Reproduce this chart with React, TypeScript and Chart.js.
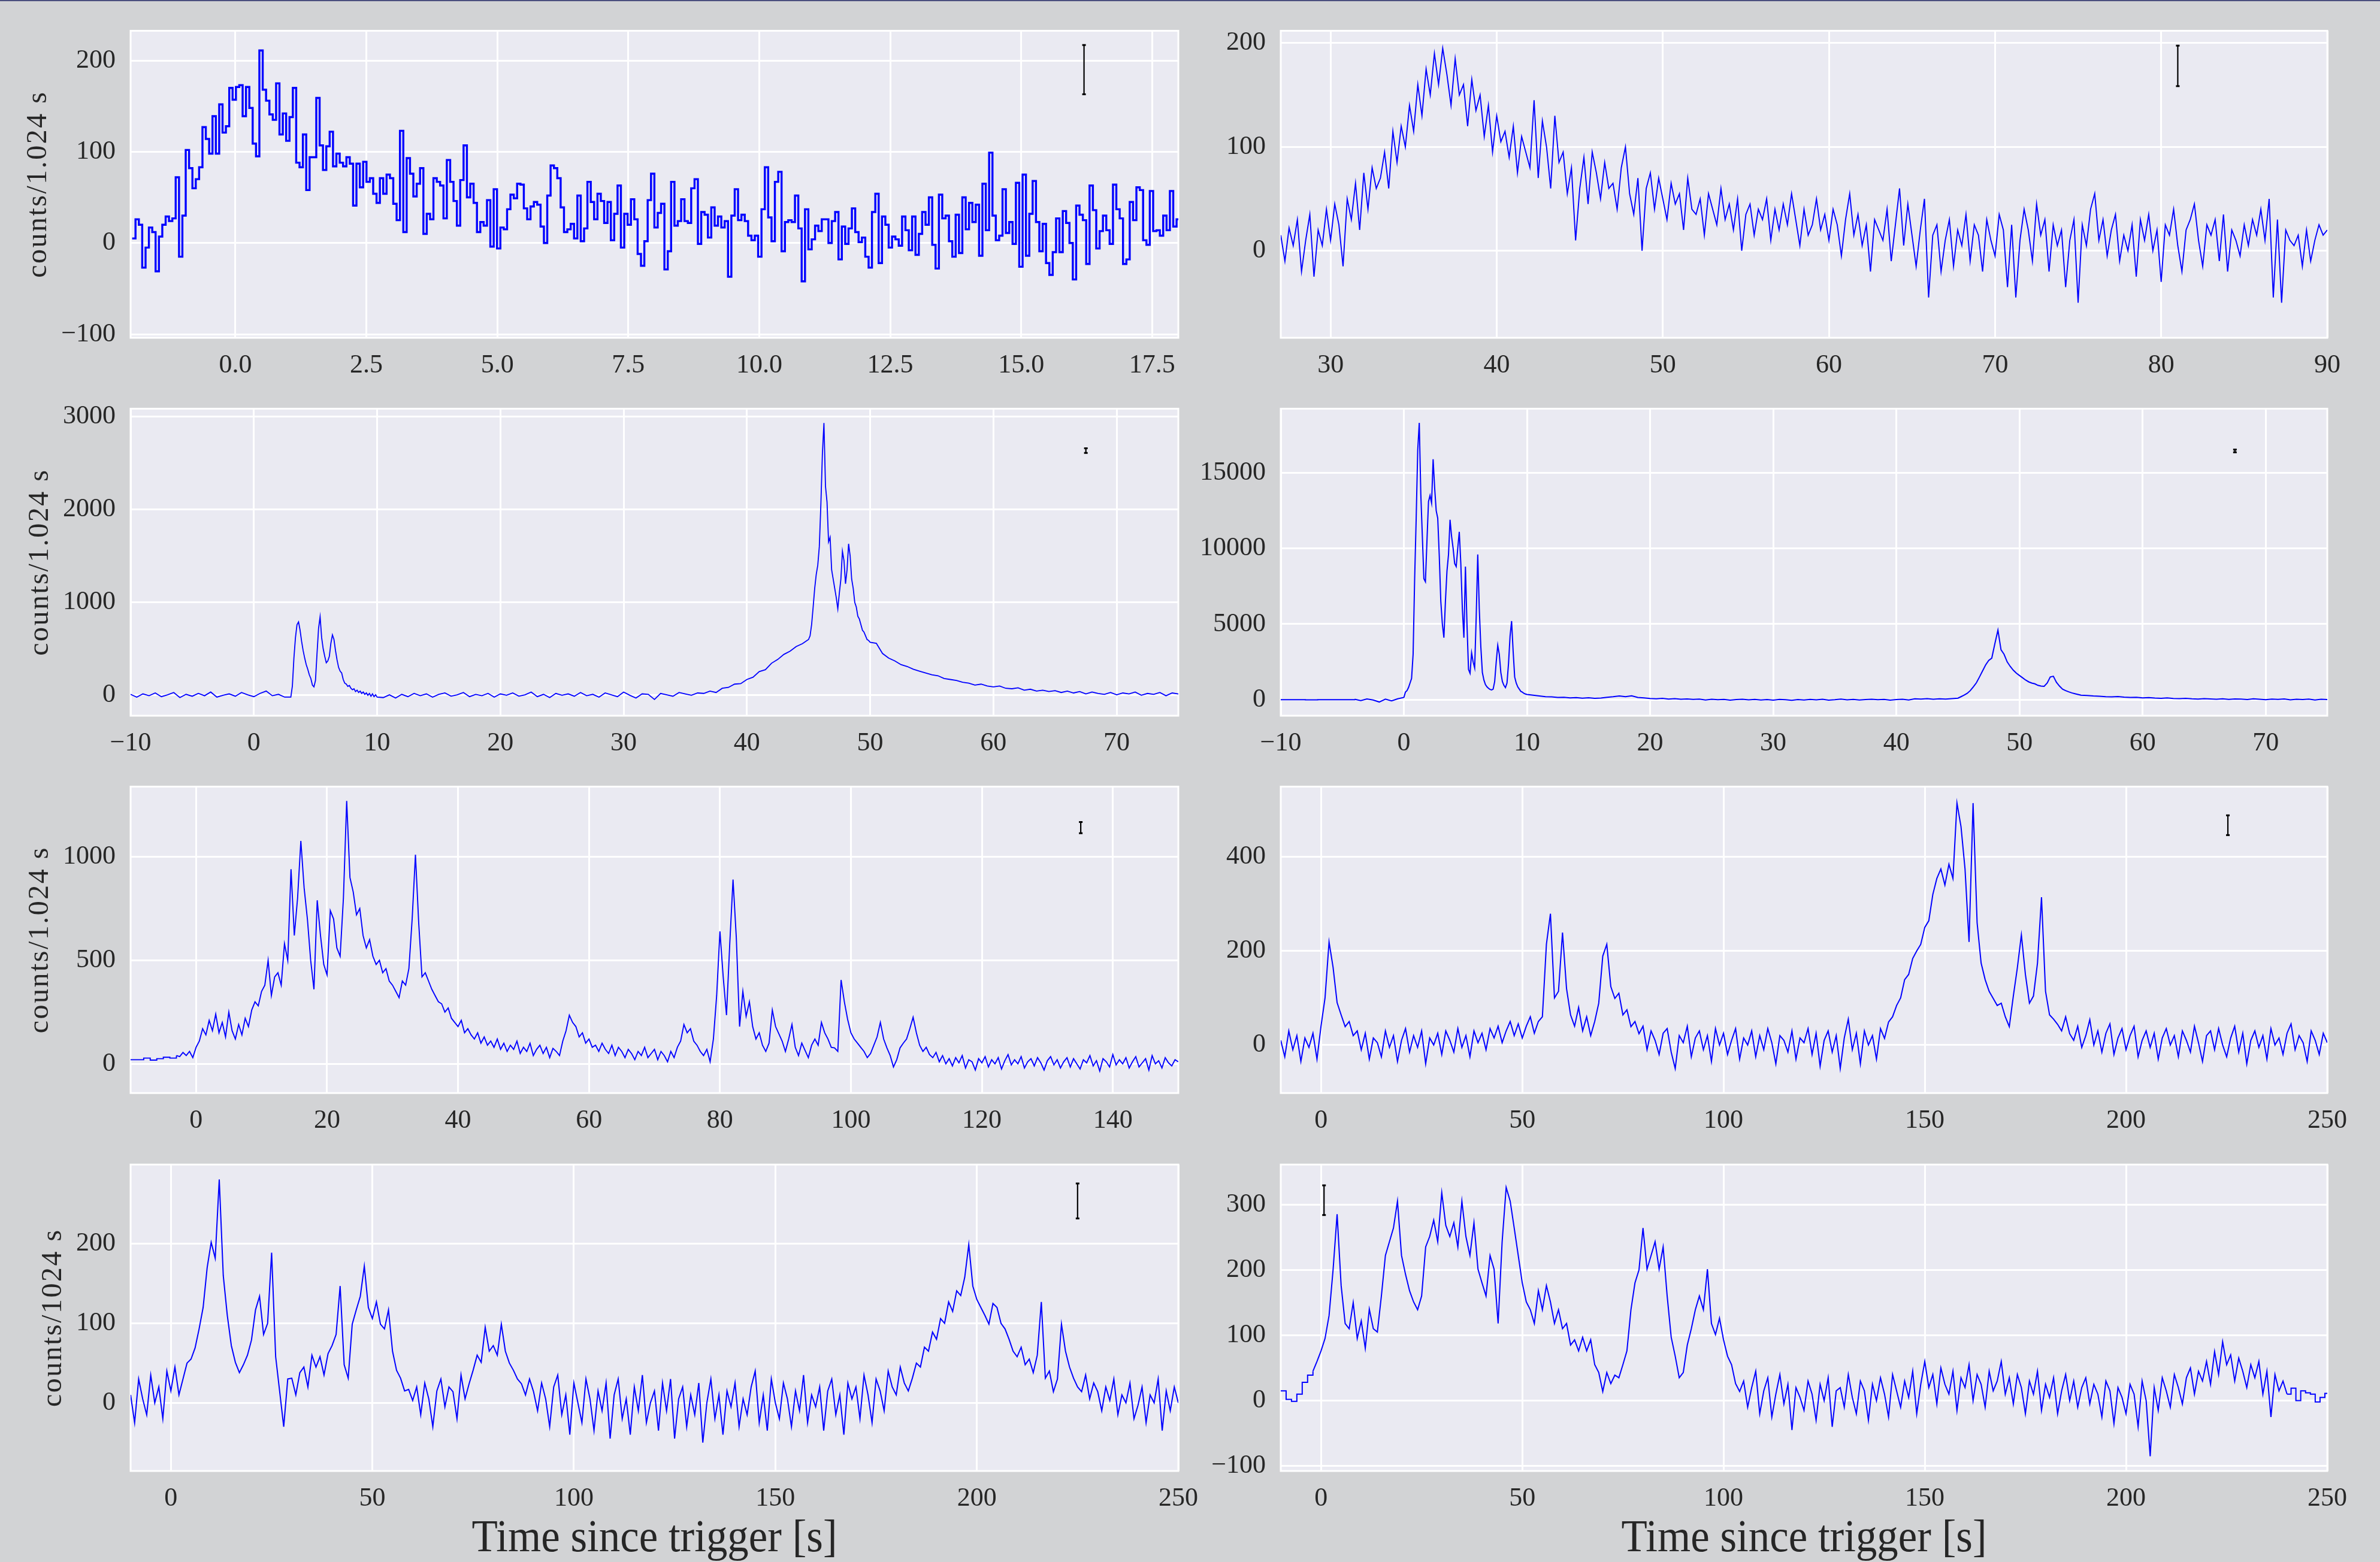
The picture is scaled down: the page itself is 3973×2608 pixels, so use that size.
import React, { useEffect, useRef } from "react";
import { Chart, registerables } from "chart.js";
Chart.register(...registerables);

// ---------------- DATA ----------------
// Panel 1 (step plot, 0.064 s bins)
const P1_T0 = -1.97;
const P1_DT = 0.0639;
const p1Counts = [
  5, 26, 20, -27, -5, 17, 12, -31, 7, 20,
  29, 24, 27, 72, -15, 30, 102, 82, 60, 70,
  83, 127, 114, 98, 139, 98, 152, 121, 128, 170,
  157, 171, 173, 139, 171, 148, 109, 95, 211, 168,
  156, 141, 135, 175, 119, 142, 112, 138, 170, 88,
  83, 119, 58, 94, 94, 159, 107, 80, 106, 122,
  84, 98, 88, 84, 94, 87, 41, 87, 61, 89,
  67, 71, 54, 44, 71, 54, 75, 71, 43, 25,
  123, 12, 93, 76, 51, 65, 82, 10, 32, 26,
  71, 67, 63, 27, 91, 67, 46, 19, 69, 107,
  50, 65, 44, 12, 23, 19, 47, -4, 59, -6,
  17, 15, 37, 53, 49, 65, 64, 38, 26, 40,
  45, 42, 18, 0, 52, 85, 82, 71, 39, 12,
  15, 21, 5, 52, 2, 16, 67, 45, 26, 54,
  46, 22, 45, 3, 32, 63, -5, 32, 20, 48,
  26, -12, -25, 2, 47, 76,
  17, 33, 43, -29, -9, 67, 19, 24, 48, 24,
  22, 60, 70, -1, 34, 31, 6, 39, 19, 29,
  17, 24, -37, 30, 59, 25, 31, 24, 8, 3,
  8, -15, 37, 83, 28, 2, 67, 78, -9, 23,
  25, 23, 52, 16, -42, 37, -7, 4, 19, 13,
  26, 26, 0, 24, 34, -18, 18, -1, 16, 38,
  12, 1, 6, -15, -27, 34, 54, -22, 29, 20,
  -5, 7, 4, -3, 29, 14, -8, 29, -13, 10,
  34, 20, 50, -2, -28, 53, 27, 30, 2, -15,
  31, -11, 50, 15, 44, 23, 42, -14, 65, 14,
  99, 30, 3, 8, 59, 11, 23, -1, 66, -26,
  75, -14, 32, 68, 23, -9, 21, -22, -35, -10,
  27, -10, 35, 22, 0, -40, 41, 31, 25, -23,
  63, 36, -6, 13, 30, 14, -1, 64, 37, 27,
  -23, -18, 45, 25, 61, 58, 3, -2, 57, 13,
  14, 8, 30, 14, 57, 18, 26,
];
const p1XTicks = [0, 2.5, 5, 7.5, 10, 12.5, 15, 17.5];
const p1YTicks = [-100, 0, 100, 200];

// Panel 2 (t0 27 s, 0.25 s)
const P2_T0 = 27;
const P2_DT = 0.25;
const p2Counts = [
  15, -10, 22, 5, 30, -20, 10, 35, -25, 20, 5, 40,
  10, 45, 25, -15, 50, 30, 65, 20, 75, 40, 80, 60,
  70, 95, 60, 115, 85, 120, 100, 140, 115, 160, 130, 175,
  150, 190, 160, 195, 170, 140, 185, 150, 160, 120, 165, 135,
  150, 110, 140, 95, 130, 105, 115, 90, 120, 75, 110, 95,
  80, 145, 70, 125, 100, 60, 130, 85, 95, 55, 80, 10,
  60, 90, 45, 95, 75, 50, 85, 60, 65, 40, 80, 100,
  55, 35, 70, 0, 60, 75, 40, 70, 50, 30, 65, 45,
  55, 20, 70, 40, 35, 50, 15, 55, 40, 25, 60, 30,
  45, 20, 50, 0, 35, 45, 15, 40, 30, 50, 10, 40,
  20, 45, 25, 55, 30, 5, 40, 15, 25, 50, 20, 35,
  10, 40, 25, -5, 30, 55, 15, 35, 5, 25, -20, 30,
  20, 10, 40, -10, 25, 60, 5, 45, 15, -15, 20, 50,
  -45, 15, 25, -20, 10, 30, -15, 20, 5, 35, -10, 25,
  15, -20, 30, 10, -5, 35, 20, -35, 25, -45, 10, 40,
  20, -10, 45, 15, 30, -20, 25, 5, 20, -35, 10, 30,
  -50, 25, 5, 40, 55, 10, 30, -5, 20, 35, -10, 15,
  0, 25, -25, 30, 10, 35, 0, 20, -30, 25, 15, 40,
  5, -20, 20, 30, 45, 10, -15, 25, 15, 30, -10, 35,
  -20, 20, 10, -5, 25, 5, 30, 15, 40, 10, 50, -45,
  30, -50, 20, 10, 5, 15, -15, 20, -10, 10, 25, 15,
  20,
];
const p2XTicks = [30, 40, 50, 60, 70, 80, 90];
const p2YTicks = [0, 100, 200];

// Panel 3
const p3CountsA = [10, -20, 15, -5, 25, -15, 5, 30, -25, 10, -10, 20, -5, 35, -20, 0, 15, -10, 30, 5, -15, 20, 45, -5, 10, -20];
const p3CountsB = [
  -20, 100, 400, 620, 760, 790, 700, 580, 480, 400,
  330, 280, 220, 180, 110, 90, 160, 450, 720, 845,
  620, 500, 420, 350, 370, 420, 560, 650, 600, 480,
  380, 300, 260, 240, 170, 130, 120, 95, 105, 75,
  60, 70, 40, 55, 30, 45, 20, 35, 10, 25,
  0, 20, -10, 15, -15, 5, -20,
];
const p3CountsC = [
  -25, 5, -30, 10, -15, 20, -5, 15, -20, 10,
  25, -10, 5, 30, -15, 10, -5, 20, -20, 15,
  0, 25, -10, 5, 35, -15, 10, -25, 20, 0,
  15, -10, 30, -5, 10, -20, 25, 5, -15, 35,
  0, -30, 15, 10, -45, 20, 5, -10, 30, 15,
  0, 25,
];
const p3CountsD = [20, 45, 30, 75, 85, 120, 125, 170, 195, 255, 275, 345, 385, 440, 475, 525, 555, 600];
const p3CountsE = [
  640, 760, 950, 1150, 1300, 1400, 1600, 2050, 2600, 2930,
  2250, 2080, 1650, 1700, 1350, 1250, 1150, 1050, 930, 1100,
  1250, 1550, 1450, 1200, 1350, 1630, 1500, 1250, 1150, 1000,
  950, 850, 820, 760, 700, 680, 640, 600, 590, 570,
];
const p3CountsF = [
  560, 450, 400, 370, 330, 310, 280, 260, 240, 220,
  210, 180, 170, 160, 140, 130, 110, 120, 100, 90,
  100, 75, 70, 80, 55, 65, 45, 55, 40, 50,
  30, 45, 25, 40, 15, 35, 20, 10, 30, 5,
  25, 15, 35, 0, 20, 10, 30, -5, 25, 15,
];
const p34XTicks = [-10, 0, 10, 20, 30, 40, 50, 60, 70];
const p3YTicks = [0, 1000, 2000, 3000];

// Panel 4
const p4CountsA = [0, 0, -10, 0, 5, 0];
const p4CountsB = [30, -60, 50, -20, -150, 40, -80, 60, 150];
const p4CountsC = [
  500, 600, 800, 1100, 1400, 3000, 8000, 12000, 16500, 18300,
  13600, 10800, 8000, 7800, 10500, 13100, 13500, 13000, 15900, 14000,
  12500, 12000, 9500, 6500, 5000, 4100, 6500, 8500, 9600, 11900,
  10800, 10000, 9000, 8800, 10000, 11100, 9000, 6000, 4100, 8800,
  5000, 2000, 1750, 3100, 2500, 2100, 5500, 9600, 6000, 3500,
  1800, 1300, 1000, 850, 750, 680, 650, 700, 1200, 2500,
  3600, 3000, 1800, 1200, 950, 800, 1100, 2400, 4200, 5200,
  3200, 1500, 1100, 850, 700, 550, 500, 420, 380, 350,
];
const p4CountsD = [
  300, 250, 200, 190, 150, 160, 120, 140, 100, 130,
  90, 110, 160, 200, 250, 200, 260, 150, 120, 80,
  60, 90, 40, 70, 30, 50, 20, 40, -20, 30,
  0, 20, -30, 10, 30, -10, 20, -20, 10, -30,
  20, 0, -40, 10, -20, 20, -10, 30, -30, 0,
  40, -10, 20, -20, 10, 30, 0, 20, -30, 10,
  30, -20, 60, 40, 70, 30, 60, 40, 70, 100,
];
const p4CountsE = [
  200, 300, 420, 600, 850, 1120, 1500, 1900, 2300, 2600,
  2750, 3700, 4600, 3300, 3000, 2500, 2200, 1950, 1750, 1600,
  1450, 1300, 1180, 1100, 1050, 950, 900, 880, 1100, 1500,
  1550, 1150, 900, 700, 600, 520, 450, 400, 350, 300,
];
const p4CountsF = [
  280, 250, 230, 200, 190, 210, 170, 150, 160, 120,
  140, 110, 90, 120, 80, 70, 90, 60, 40, 70,
  50, 30, 60, 20, 50, 40, 10, 60, 30, 0,
  40, 20, 50, -10, 30, 10, 40, -20, 30, 10,
];
const p4YTicks = [0, 5000, 10000, 15000];

// Panel 5
const p5CountsA = [20, 20, 28, 18, 25, 32, 28];
const p5CountsB = [
  40, 35, 55, 40, 60, 30,
  80, 110, 170, 140, 210, 160, 240, 150, 200, 130,
  250, 160, 120, 190, 140, 220, 180, 260, 300, 280,
  350, 380, 500, 330, 420, 440, 380, 580, 500, 940,
  620, 800, 1077, 850, 700, 500, 360, 790, 620, 480,
  430, 740, 700, 560, 520, 800, 1270, 900, 830, 720,
  750, 620, 560, 600, 520, 480, 500, 440, 460, 400,
  380, 350, 320, 400, 380, 460, 700, 1010, 680, 420,
  440, 400, 360, 330, 300, 290, 250, 270, 220, 200,
  180, 210, 150, 170, 140, 120, 150, 100, 130, 90,
  110, 80, 120, 70, 100, 60, 90, 70, 110, 50,
  80, 60, 100, 40, 70, 90, 50, 80, 30, 75,
  60, 40, 110, 160, 235, 200, 180, 130, 150, 100,
  120, 80, 90, 60, 100, 70, 50, 90, 40, 80,
  60, 30, 70, 50, 20, 60, 40, 80, 30, 50,
  70, 20, 60, 40, 10, 60, 30, 80, 110, 190,
  150, 170, 110, 90, 60, 40, 70, 10, 120, 330,
  640, 420, 235, 580, 890, 610, 180, 350, 230, 300,
  180, 120, 150, 90, 60, 100, 260, 180, 145, 110,
  60, 120, 190, 80, 40, 100, 65, 30, 90, 120,
  90, 200, 150, 120, 80, 77, 60, 405, 300, 215,
  150, 120, 100, 80, 60, 30, 50, 90, 130, 200,
  120, 77, 40, -15, 20, 77, 100, 120, 170, 225,
  150, 90, 60, 80, 45, 30, 55, 10, 40, 0,
  25, -10, 30, 5, 40, -20, 20, 10, -30, 25,
  5, 35, -15, 20, 0, 30, -25, 15, 45, -5,
  20, 0, 35, -20, 10, 25, -10, 30, 5, -30,
  15, 35, -5, 20, -20, 10, 30, -15, 25, 0,
  -25, 20, 5, 40, -10, 15, -35, 25, 10, -15,
  45, -5, 20, 0, 30, -20, 10, 35, -15, 5,
  25, -30, 40, 0, 15, -20, 30, 5, -10, 20,
  10,
];
const p5XTicks = [0, 20, 40, 60, 80, 100, 120, 140];
const p5YTicks = [0, 500, 1000];

// Panel 6 (t0 -10, 1 s)
const p6Counts = [
  10, -25, 30, -10, 20, -35, 15, -5, 25, -30,
  40, 100, 219, 165, 90, 64, 39, 50, 20, 30,
  -10, 25, -30, 15, 5, -25, 30, -5, 20, -35,
  10, 35, -15, 20, -5, 30, -40, 15, 0, 25,
  -20, 30, 10, -15, 35, -5, 20, -25, 30, 5,
  25, -10, 35, 15, 40, 5, 30, 50, 20, 45,
  15, 40, 60, 25, 50, 60, 214, 279, 100, 114,
  239, 120, 64, 40, 80, 30, 60, 20, 50, 89,
  189, 214, 124, 99, 110, 64, 75, 39, 50, 24,
  40, -10, 30, 10, -20, 25, 35, -15, -50, 20,
  5, 40, -25, 15, 30, -10, 20, -35, 35, 0,
  25, -20, 10, 35, -30, 15, 0, 30, -25, 20,
  -10, 35, 5, -40, 20, 10, -15, 30, -30, 15,
  5, 35, -20, 25, -45, 10, 30, -15, 20, -50,
  15, 55, -10, 25, -40, 30, 0, 20, -30, 35,
  14, 49, 60, 84, 100, 139, 150, 184, 200, 214,
  250, 264, 320, 354, 374, 340, 384, 354, 514, 464,
  374, 219, 514, 260, 174, 139, 114, 99, 84, 89,
  60, 39, 104, 164, 234, 150, 89, 104, 174, 314,
  114, 64, 55, 44, 30, 60, 24, 10, 40, -5,
  20, 54, 0, 30, -15, 25, 45, -20, 15, 35,
  -10, 20, 40, -25, 10, 30, -5, 25, -30, 15,
  35, 0, 20, -25, 30, 10, -15, 40, 5, -35,
  20, 30, -10, 35, 0, -25, 15, 40, -15, 25,
  -40, 10, 30, -5, 20, -30, 35, 0, 15, -20,
  25, 45, -10, 20, 5, -35, 30, 10, -20, 25,
  5,
];
const p678XTicks = [0, 50, 100, 150, 200, 250];
const p6YTicks = [0, 200, 400];

// Panel 7 (t0 -10, 1 s)
const p7Counts = [
  10, -25, 30, 5, -15, 35, 0, 20, -20, 40,
  15, 45, 10, 30, 50, 55, 69, 93, 120, 170,
  202, 182, 281, 160, 110, 72, 51, 38, 48, 60,
  79, 117, 134, 86, 100, 189, 58, 14, -30, 30,
  31, 10, 38, 45, 20, 60, 45, 58, 35, 62,
  72, 86, 147, 48, 31, 99, 117, 134, 172, 120,
  106, 127, 99, 93, 117, 65, 41, 31, 15, 17,
  3, 20, -15, 25, 5, -30, 15, 30, -5, 20,
  14, -20, 35, 5, 24, 41, 60, 51, 95, 65,
  72, 60, 99, 65, 50, 41, 30, 24, 10, 30,
  14, -10, 25, 5, -30, 20, 35, -15, 10, -40,
  25, 0, -25, 30, 5, -35, 15, -10, 25, -45,
  10, 30, -20, 5, -40, 20, -10, 35, -25, 0,
  15, -35, 25, -10, 30, -45, 5, 20, -30, 10,
  -15, 25, -50, 0, 30, -20, 10, -40, 15, -5,
  25, -30, 5, -15, 20, 40, -25, 10, -35, 30,
  0, -20, 25, 5, -30, 15, -10, 35, -25, 10,
  -5, 20, -35, 15, 30, -15, 10, -40, 25, 5,
  20, -20, 35, 10, -25, 30, 15, -10, 40, 20,
  10, 45, 25, 15, 31, 50, 45, 70, 65, 89,
  80, 106, 100, 127, 115, 141, 135, 158, 199, 147,
  130, 120, 110, 99, 125, 120, 100, 93, 80, 65,
  58, 70, 48, 55, 38, 60, 127, 31, 40, 14,
  30, 99, 65, 45, 31, 20, 14, 35, 5, 25,
  14, -10, 20, 3, 30, -15, 10, 0, 25, -20,
  -3, 20, -25, 10, 0, 30, -35, 15, -10, 20,
  0,
];
const p7YTicks = [0, 100, 200];

// Panel 8
const p8CountsPre = [15, 2, -1, 10, 28, 39];
const p8CountsMain = [
  45, 60,
  76, 95, 130, 200, 285, 176, 118, 110, 150, 95,
  122, 80, 140, 110, 105, 160, 222, 243, 264, 305,
  222, 193, 168, 151, 139, 160, 235, 251, 276, 243,
  318, 268, 251, 272, 235, 305, 251, 222, 272, 201,
  180, 160, 222, 201, 118, 243, 326, 305, 264, 222,
  180, 151, 139, 118, 168, 139, 176, 151, 118, 139,
  110, 118, 85, 93, 76, 97, 76, 93, 55, 43,
  14, 43, 26, 39, 35, 55, 76, 139, 180, 200,
  264, 201, 222, 243, 201, 235, 160, 97, 68, 35,
  43, 85, 110, 139, 160, 139, 201, 118, 101, 126,
  93, 68, 55, 26, 14, 30, -10, 20, 45, -20,
  15, 35, -25, 10, 40, -5, 25, -45, 20, 5,
  -15, 30, 10, -30, 25, 0, 35, -40, 15, 20,
  -10, 40, 5, -20, 30, 15, -30, 25, 0, 35,
  10, -25, 40, 15, -10, 30, 5, 45, -20, 25,
  60, 20, 40, -5, 50, 25, 10, 45, -15, 35,
  20, 55, 0, 40, 25, -10, 45, 15, 30, 60,
  10, 35, -5, 40, 20, -20, 30, 10, 45, -15,
  25, 5, 35, -20, 15, 40, 0, 30, -10, 20,
  35, -5, 25, 10, -25, 30, 15, -35, 20, 5,
  -20, 25, 10, -40, 30, 0, -85, 20, -15, 35,
  15, -10, 40, 20, -5, 35, 50, 10, 45, 30,
  60, 25, 75, 40, 90, 55, 70, 30, 65, 45,
  20, 55, 35, 60, 10, 45, -25, 40, 15, 30,
  10,
];
const p8CountsPost = [19, 0, 15, 12, 10, -2, 5, 11];
const p8YTicks = [-100, 0, 100, 200, 300];

// ---------------- STYLE / LAYOUT ----------------
const FONT = '"Liberation Serif", "Times New Roman", serif';
const TEXT = "#262626";
const LINE = "#0000ff";
const PAGE_BG = "#d2d3d5";
const AX_BG = "#eaeaf2";
const COL_CANVAS_LEFT = [0, 1990];
const COL_CANVAS_W = [2050, 1983];
const CHART_LEFT = [218, 2138];
const CHART_RIGHT = [1967, 3885];
const ROW_TOP = [40, 671, 1302, 1933];
const ROW_BOTTOM = [564, 1195, 1825, 2456];
const PAD_TOP = 40;
const PAGE_H = 2608;

interface Seg { t0: number; dt: number; v: number[]; stepped?: boolean }
interface PanelCfg {
  col: number; row: number; segs: Seg[];
  xr: [number, number]; yr: [number, number];
  xTicks: number[]; yTicks: number[]; xDec: number; lw: number;
  err: [number, number, number]; yTitle?: string; xTitle?: string;
}

const PANELS: PanelCfg[] = [
  { col: 0, row: 0, segs: [{ t0: P1_T0, dt: P1_DT, v: p1Counts, stepped: true }], xr: [-2, 18], yr: [-103.9, 232.6], xTicks: p1XTicks, yTicks: p1YTicks, xDec: 1, lw: 3.4, err: [16.2, 190, 27], yTitle: "counts/1.024 s" },
  { col: 1, row: 0, segs: [{ t0: P2_T0, dt: P2_DT, v: p2Counts }], xr: [27, 90], yr: [-83.8, 211.8], xTicks: p2XTicks, yTicks: p2YTicks, xDec: 0, lw: 1.9, err: [81.0, 178, 19.5] },
  { col: 0, row: 1, segs: [
      { t0: -10, dt: 0.5, v: p3CountsA }, { t0: 3.0, dt: 0.125, v: p3CountsB }, { t0: 10.5, dt: 0.5, v: p3CountsC },
      { t0: 36.5, dt: 0.5, v: p3CountsD }, { t0: 45.125, dt: 0.125, v: p3CountsE }, { t0: 50.5, dt: 0.5, v: p3CountsF } ],
    xr: [-10, 75], yr: [-220, 3084], xTicks: p34XTicks, yTicks: p3YTicks, xDec: 0, lw: 1.8, err: [67.5, 2633, 25], yTitle: "counts/1.024 s" },
  { col: 1, row: 1, segs: [
      { t0: -10, dt: 1, v: p4CountsA, stepped: true }, { t0: -4, dt: 0.5, v: p4CountsB }, { t0: 0.125, dt: 0.125, v: p4CountsC },
      { t0: 10.5, dt: 0.5, v: p4CountsD }, { t0: 45.25, dt: 0.25, v: p4CountsE }, { t0: 55.5, dt: 0.5, v: p4CountsF } ],
    xr: [-10, 75], yr: [-1058, 19238], xTicks: p34XTicks, yTicks: p4YTicks, xDec: 0, lw: 2.0, err: [67.5, 16446, 90] },
  { col: 0, row: 2, segs: [{ t0: -10, dt: 1, v: p5CountsA, stepped: true }, { t0: -3, dt: 0.5, v: p5CountsB }],
    xr: [-10, 150], yr: [-141, 1339], xTicks: p5XTicks, yTicks: p5YTicks, xDec: 0, lw: 1.9, err: [135.1, 1141, 27], yTitle: "counts/1.024 s" },
  { col: 1, row: 2, segs: [{ t0: -10, dt: 1, v: p6Counts }], xr: [-10, 250], yr: [-102, 549], xTicks: p678XTicks, yTicks: p6YTicks, xDec: 0, lw: 2.0, err: [225.3, 467, 21] },
  { col: 0, row: 3, segs: [{ t0: -10, dt: 1, v: p7Counts }], xr: [-10, 250], yr: [-85.7, 299.8], xTicks: p678XTicks, yTicks: p7YTicks, xDec: 0, lw: 2.0, err: [225, 254, 22], yTitle: "counts/1024 s", xTitle: "Time since trigger [s]" },
  { col: 1, row: 3, segs: [{ t0: -10, dt: 1.3333, v: p8CountsPre, stepped: true }, { t0: -2, dt: 1, v: p8CountsMain }, { t0: 241, dt: 1.2, v: p8CountsPost, stepped: true }],
    xr: [-10, 250], yr: [-107.5, 361], xTicks: p678XTicks, yTicks: p8YTicks, xDec: 0, lw: 2.0, err: [0.75, 306.5, 22.7], xTitle: "Time since trigger [s]" },
];

function fmt(v: number, dec: number) {
  const s = Math.abs(v).toFixed(dec);
  return v < 0 ? "\u2212" + s : s;
}

function makeDs(data: any[], lw: number, stepped: boolean) {
  return { data, borderColor: LINE, borderWidth: lw, pointRadius: 0, fill: false, tension: 0, stepped: stepped ? true : false, spanGaps: true, borderJoinStyle: "miter" };
}

function buildDatasets(segs: Seg[], lw: number) {
  const out: any[] = [];
  let cur: any = null;
  segs.forEach((s, k) => {
    const pts = s.v.map((y, i) => ({ x: s.t0 + i * s.dt, y }));
    if (s.stepped) {
      const prev = segs[k - 1];
      const next = segs[k + 1];
      if (prev) {
        const pl = prev.v.length - 1;
        pts.unshift({ x: prev.t0 + pl * prev.dt, y: prev.v[pl] });
      }
      pts.push({ x: s.t0 + s.v.length * s.dt, y: next ? next.v[0] : s.v[s.v.length - 1] });
      out.push(makeDs(pts, lw, true));
      cur = null;
    } else {
      if (!cur) { cur = makeDs([], lw, false); out.push(cur); }
      cur.data.push(...pts);
    }
  });
  return out;
}

function Panel({ p }: { p: PanelCfg }) {
  const ref = useRef<HTMLCanvasElement>(null);
  const cLeft = COL_CANVAS_LEFT[p.col];
  const cW = COL_CANVAS_W[p.col];
  const cTop = ROW_TOP[p.row] - PAD_TOP;
  const chartH = ROW_BOTTOM[p.row] - ROW_TOP[p.row];
  const cH = p.row === 3 ? PAGE_H - cTop : PAD_TOP + chartH + 110;
  const yAxisW = CHART_LEFT[p.col] - cLeft;
  const padRight = cLeft + cW - CHART_RIGHT[p.col];
  const xAxisH = cH - PAD_TOP - chartH;

  useEffect(() => {
    const canvas = ref.current!;
    const deco = {
      id: "deco",
      beforeDraw(chart: any) {
        const { ctx, chartArea: a } = chart;
        ctx.save();
        ctx.fillStyle = AX_BG;
        ctx.fillRect(a.left, a.top, a.right - a.left, a.bottom - a.top);
        ctx.restore();
      },
      beforeDatasetsDraw(chart: any) {
        const { ctx, chartArea: a } = chart;
        ctx.save();
        ctx.strokeStyle = "#ffffff";
        ctx.lineWidth = 3;
        ctx.strokeRect(a.left, a.top, a.right - a.left, a.bottom - a.top);
        ctx.restore();
      },
      afterDatasetsDraw(chart: any) {
        const { ctx } = chart;
        const xs = chart.scales.x, ys = chart.scales.y;
        const x = xs.getPixelForValue(p.err[0]);
        const y1 = ys.getPixelForValue(p.err[1] + p.err[2]);
        const y2 = ys.getPixelForValue(p.err[1] - p.err[2]);
        ctx.save();
        ctx.strokeStyle = "#000";
        ctx.lineWidth = 2.2;
        ctx.beginPath();
        ctx.moveTo(x, y1);
        ctx.lineTo(x, y2);
        ctx.stroke();
        ctx.fillStyle = "#000";
        ctx.fillRect(x - 3, y1 - 1.5, 6, 3);
        ctx.fillRect(x - 3, y2 - 1.5, 6, 3);
        ctx.restore();
      },
      afterDraw(chart: any) {
        const { ctx, chartArea: a } = chart;
        ctx.save();
        ctx.fillStyle = TEXT;
        if (p.yTitle) {
          ctx.font = `44px ${FONT}`;
          let w = 0;
          p.yTicks.forEach((v) => { w = Math.max(w, ctx.measureText(fmt(v, 0)).width); });
          const cx = a.left - 25 - w - 38;
          const cy = (a.top + a.bottom) / 2;
          ctx.font = `48px ${FONT}`;
          try { (ctx as any).letterSpacing = "2.5px"; } catch (e) {}
          ctx.translate(cx, cy);
          ctx.rotate(-Math.PI / 2);
          ctx.textAlign = "center";
          ctx.textBaseline = "middle";
          ctx.fillText(p.yTitle, 0, 0);
          ctx.setTransform(1, 0, 0, 1, 0, 0);
          try { (ctx as any).letterSpacing = "0px"; } catch (e) {}
        }
        if (p.xTitle) {
          ctx.font = `77px ${FONT}`;
          ctx.textAlign = "center";
          ctx.textBaseline = "alphabetic";
          ctx.fillText(p.xTitle, (a.left + a.right) / 2, 2590 - cTop, 610);
        }
        ctx.restore();
      },
    };

    const chart = new Chart(canvas, {
      type: "line",
      data: { datasets: buildDatasets(p.segs, p.lw) },
      options: {
        animation: false,
        responsive: false,
        maintainAspectRatio: false,
        events: [],
        layout: { padding: { top: PAD_TOP, right: padRight, left: 0, bottom: 0 } },
        plugins: { legend: { display: false }, tooltip: { enabled: false }, title: { display: false } },
        scales: {
          x: {
            type: "linear",
            min: p.xr[0],
            max: p.xr[1],
            afterBuildTicks: (s: any) => { s.ticks = p.xTicks.map((v) => ({ value: v })); },
            afterFit: (s: any) => { s.height = xAxisH; },
            grid: { color: "#ffffff", lineWidth: 3, drawTicks: false },
            border: { display: false },
            ticks: {
              padding: 20,
              autoSkip: false,
              maxRotation: 0,
              color: TEXT,
              font: { family: FONT, size: 44 },
              callback: (v: any) => fmt(Number(v), p.xDec),
            },
          },
          y: {
            type: "linear",
            min: p.yr[0],
            max: p.yr[1],
            afterBuildTicks: (s: any) => { s.ticks = p.yTicks.map((v) => ({ value: v })); },
            afterFit: (s: any) => { s.width = yAxisW; },
            grid: { color: "#ffffff", lineWidth: 3, drawTicks: false },
            border: { display: false },
            ticks: {
              padding: 25,
              autoSkip: false,
              color: TEXT,
              font: { family: FONT, size: 44 },
              callback: (v: any) => fmt(Number(v), 0),
            },
          },
        },
      } as any,
      plugins: [deco as any],
    });
    return () => chart.destroy();
  }, []);

  return (
    <canvas
      ref={ref}
      width={cW}
      height={cH}
      style={{ position: "absolute", left: cLeft, top: cTop, width: cW, height: cH }}
    />
  );
}

export default function App() {
  useEffect(() => {
    document.body.style.margin = "0";
  }, []);
  return (
    <div style={{ position: "absolute", left: 0, top: 0, width: 3973, height: PAGE_H, background: PAGE_BG, overflow: "hidden" }}>
      <div style={{ position: "absolute", left: 0, top: 0, width: 3973, height: 2, background: "#4b4f7f" }} />
      {PANELS.map((p, i) => (
        <Panel key={i} p={p} />
      ))}
    </div>
  );
}
